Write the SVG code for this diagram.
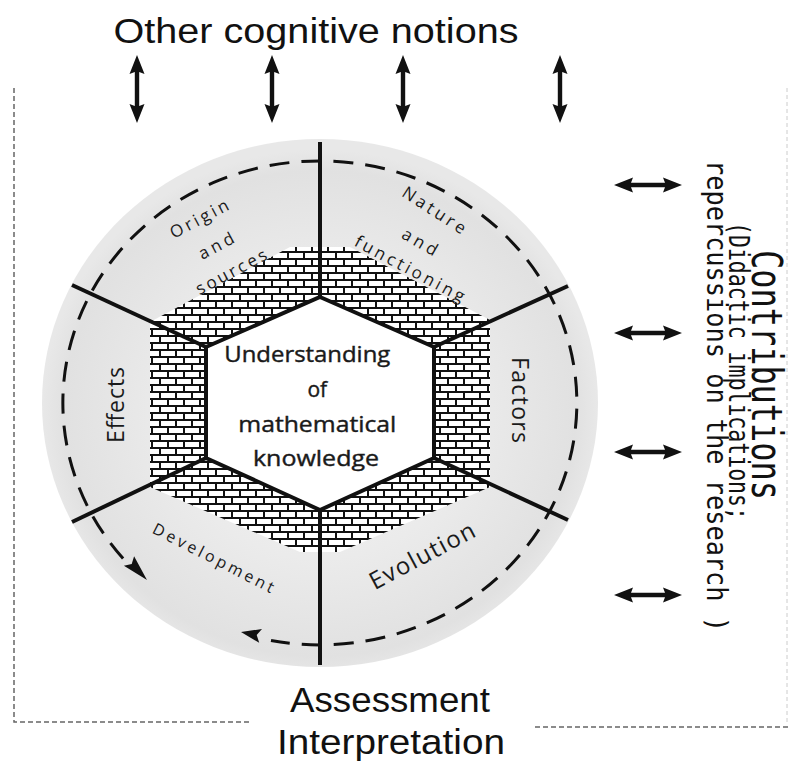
<svg xmlns="http://www.w3.org/2000/svg" width="790" height="762" viewBox="0 0 790 762">
<defs>
<style>
.title{font-family:"Liberation Sans","DejaVu Sans",sans-serif;fill:#111;}
.lbl{font-family:"Open Sans","DejaVu Sans",sans-serif;fill:#1a1a1a;}
.mono{font-family:"DejaVu Sans Mono","Liberation Mono",monospace;fill:#111;}
.seg{stroke:#111;stroke-width:4;fill:none;stroke-linecap:butt;}
.frame{stroke:#666;stroke-width:1.5;stroke-dasharray:5 3;fill:none;}
.arr{fill:#111;}
</style>
<radialGradient id="disc" cx="50%" cy="52%" r="50%">
<stop offset="0" stop-color="#f6f6f6"/>
<stop offset="0.55" stop-color="#ebebeb"/>
<stop offset="0.92" stop-color="#e1e1e1"/>
<stop offset="1" stop-color="#e8e8e8"/>
</radialGradient>
<pattern id="bricks" width="16" height="14" patternUnits="userSpaceOnUse">
<rect width="16" height="14" fill="#111"/>
<rect x="1" y="1" width="14" height="5" fill="#fff"/>
<rect x="-7" y="8" width="14" height="5" fill="#fff"/>
<rect x="9" y="8" width="14" height="5" fill="#fff"/>
</pattern>
<path id="varrow" d="M0,-34 L7.5,-15 L2.2,-17 L2.2,17 L7.5,15 L0,34 L-7.5,15 L-2.2,17 L-2.2,-17 L-7.5,-15 Z"/>
</defs>

<rect width="790" height="762" fill="#fff"/>

<g id="frame">
<path class="frame" d="M14,88 L14,722 L250,722"/>
<path class="frame" d="M535,727 L790,727"/>
<path d="M787,88 L787,725" stroke="#ccc" stroke-width="1" stroke-dasharray="4 3" fill="none"/>
</g>

<g id="disc-node">
<ellipse cx="320" cy="403" rx="278" ry="264" fill="url(#disc)"/>
<polygon points="150,322 290,247 350,247 490,320 490,487 340,552 300,552 150,487" fill="url(#bricks)"/>
</g>

<g id="cycle">
<path d="M123.1,558.6 A257,242 0 1 1 271.0,640.5" fill="none" stroke="#111" stroke-width="3" stroke-dasharray="20 12"/>
<polygon class="arr" points="147,580 123.9,565.8 131.7,563.9 134.1,556.2"/>
<polygon class="arr" points="241,632 262,629 256.7,635.1 259.2,642.8"/>
</g>

<g id="sectors">
<line class="seg" x1="320" y1="297" x2="320" y2="142"/>
<line class="seg" x1="434" y1="347" x2="568" y2="286"/>
<line class="seg" x1="434" y1="458" x2="568" y2="520"/>
<line class="seg" x1="320" y1="510" x2="320" y2="665"/>
<line class="seg" x1="206" y1="458" x2="72" y2="522"/>
<line class="seg" x1="206" y1="347" x2="72" y2="285"/>
</g>

<g id="center">
<polygon points="320,297 434,347 434,458 320,510 206,458 206,347" fill="#fff" stroke="#111" stroke-width="4" stroke-linejoin="miter"/>
<text class="lbl" text-anchor="middle" font-size="21" stroke="#1a1a1a" stroke-width="0.4">
<tspan x="310" y="362" textLength="166" lengthAdjust="spacingAndGlyphs">Understanding</tspan>
<tspan x="320" y="397">of</tspan>
<tspan x="320" y="432" textLength="158" lengthAdjust="spacingAndGlyphs">mathematical</tspan>
<tspan x="316" y="466" textLength="126" lengthAdjust="spacingAndGlyphs">knowledge</tspan>
</text>
</g>

<g id="origin">
<text class="lbl" font-size="17" text-anchor="middle" transform="translate(202,224) rotate(-28)" textLength="64" lengthAdjust="spacing">Origin</text>
<text class="lbl" font-size="17" text-anchor="middle" transform="translate(219,251) rotate(-28)" textLength="38" lengthAdjust="spacing">and</text>
<text class="lbl" font-size="17" text-anchor="middle" transform="translate(234,277) rotate(-28)" textLength="78" lengthAdjust="spacing">sources</text>
</g>

<g id="nature">
<text class="lbl" font-size="17" text-anchor="middle" transform="translate(431,215) rotate(33)" textLength="72" lengthAdjust="spacing">Nature</text>
<text class="lbl" font-size="17" text-anchor="middle" transform="translate(417,247) rotate(30)" textLength="38" lengthAdjust="spacing">and</text>
<text class="lbl" font-size="17" text-anchor="middle" transform="translate(407,274) rotate(28)" textLength="122" lengthAdjust="spacing">functioning</text>
</g>

<g id="factors">
<text class="lbl" font-size="23" text-anchor="middle" transform="translate(512,400) rotate(90)" textLength="86" lengthAdjust="spacing">Factors</text>
</g>

<g id="effects">
<text class="lbl" font-size="23" text-anchor="middle" transform="translate(124,405) rotate(-90)" textLength="76" lengthAdjust="spacing">Effects</text>
</g>

<g id="evolution">
<text class="lbl" font-size="24" text-anchor="middle" transform="translate(426,563) rotate(-28)" textLength="116" lengthAdjust="spacing">Evolution</text>
</g>

<g id="development">
<text class="lbl" font-size="16" text-anchor="middle" transform="translate(211,563) rotate(27)" textLength="134" lengthAdjust="spacing">Development</text>
</g>

<g id="other-notions">
<text class="title" x="316" y="43" font-size="35" text-anchor="middle" textLength="405" lengthAdjust="spacingAndGlyphs">Other cognitive notions</text>
</g>

<g id="assessment">
<text class="title" x="390" y="712" font-size="35" text-anchor="middle" textLength="200" lengthAdjust="spacingAndGlyphs">Assessment</text>
<text class="title" x="391" y="754" font-size="35" text-anchor="middle" textLength="228" lengthAdjust="spacingAndGlyphs">Interpretation</text>
</g>

<g id="contributions">
<text class="mono" font-size="42" text-anchor="middle" transform="translate(752,375) rotate(90)" textLength="250" lengthAdjust="spacingAndGlyphs">Contributions</text>
<text class="mono" font-size="28" text-anchor="middle" transform="translate(729,371) rotate(90)" textLength="298" lengthAdjust="spacingAndGlyphs">(Didactic implications;</text>
<text class="mono" font-size="29" text-anchor="middle" transform="translate(707,396) rotate(90)" textLength="472" lengthAdjust="spacingAndGlyphs">repercussions on the research )</text>
</g>

<g id="connectors">
<use href="#varrow" class="arr" transform="translate(137,89)"/>
<use href="#varrow" class="arr" transform="translate(272,89)"/>
<use href="#varrow" class="arr" transform="translate(403,89)"/>
<use href="#varrow" class="arr" transform="translate(560,89)"/>
<use href="#varrow" class="arr" transform="translate(648,185) rotate(90)"/>
<use href="#varrow" class="arr" transform="translate(648,333) rotate(90)"/>
<use href="#varrow" class="arr" transform="translate(648,452) rotate(90)"/>
<use href="#varrow" class="arr" transform="translate(648,595) rotate(90)"/>
</g>
</svg>
